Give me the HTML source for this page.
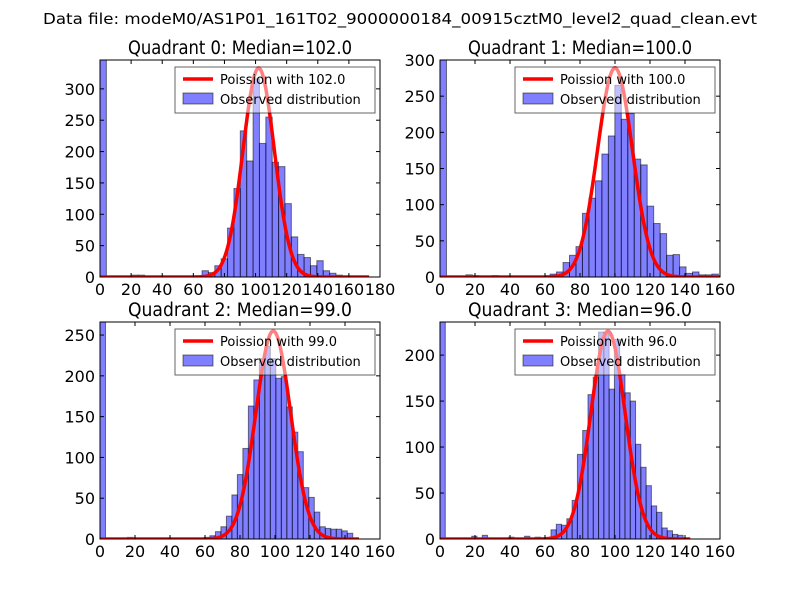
<!DOCTYPE html>
<html><head><meta charset="utf-8"><style>
body{margin:0;background:#fff;}
svg{display:block;font-family:"DejaVu Sans","Liberation Sans",sans-serif;}
</style></head><body>
<svg id="fig" width="800" height="600" viewBox="0 0 800 600">
<rect width="800" height="600" fill="#fff"/>
<text x="400" y="24" text-anchor="middle" font-size="15" textLength="714" lengthAdjust="spacingAndGlyphs">Data file: modeM0/AS1P01_161T02_9000000184_00915cztM0_level2_quad_clean.evt</text>
</svg>
<script>
// Chart data
const titles = ["Quadrant 0: Median=102.0","Quadrant 1: Median=100.0","Quadrant 2: Median=99.0","Quadrant 3: Median=96.0"];
const medians = [102, 100, 99, 96];
const poissonPeaks = [333, 289, 255, 226];
const curveEnds = [173, 160, 148, 143];
const binWidths = [4.1, 3.7, 3.14, 3.02];
const counts0 = [346,0,0,0,0,3,3,0,0,0,0,0,0,0,0,0,10,7,18,29,78,141,233,185,316,213,255,183,176,117,64,36,31,18,26,10,6,3];
const counts1 = [300,0,0,0,3,2,0,0,2,0,0,0,0,0,0,0,0,4,7,20,30,42,88,109,133,170,195,265,218,226,163,155,98,74,60,30,31,14,5,7,3,3,4];
const counts2 = [266,0,0,0,0,2,1,0,0,0,0,0,0,0,0,0,0,0,0,2,4,9,15,28,54,79,111,163,195,221,236,221,197,199,162,131,107,63,51,33,15,13,12,12,10,7];
const counts3 = [236,0,0,0,0,0,3,0,4,0,0,0,0,2,0,0,3,0,2,0,1,10,16,15,22,42,92,118,157,176,225,225,163,217,179,159,150,103,78,58,36,29,12,9,5,4];
const xMaxes = [180, 160, 160, 160];
const yMaxes = [346, 300, 266, 236];
const xTicks0 = [0,20,40,60,80,100,120,140,160,180];
const xTicks = [0,20,40,60,80,100,120,140,160];
const yTicks0 = [0,50,100,150,200,250,300];
const yTicks1 = [0,50,100,150,200,250,300];
const yTicks2 = [0,50,100,150,200,250];
const yTicks3 = [0,50,100,150,200];
const legendLabels = ["Poission with 102.0","Poission with 100.0","Poission with 99.0","Poission with 96.0"];

const allCounts = [counts0, counts1, counts2, counts3];
const allXTicks = [xTicks0, xTicks, xTicks, xTicks];
const allYTicks = [yTicks0, yTicks1, yTicks2, yTicks3];
const boxes = [[100,60,380,277],[440,60,720,277],[100,322,380,539],[440,322,720,539]];
const NS = "http://www.w3.org/2000/svg";
const fig = document.getElementById('fig');
function mk(tag, attrs, parent){const e=document.createElementNS(NS,tag);for(const k in attrs)e.setAttribute(k,attrs[k]);(parent||fig).appendChild(e);return e;}

for (let q=0;q<4;q++){
  const [L,T,R,B]=boxes[q];
  const xs=v=>L+(v/xMaxes[q])*(R-L);
  const ys=v=>B-(v/yMaxes[q])*(B-T);
  const g=mk('g',{});
  
  
  const clipId='clip'+q;
  const cp=mk('clipPath',{id:clipId},g); mk('rect',{x:L,y:T,width:R-L,height:B-T},cp);
  const plot=mk('g',{'clip-path':'url(#'+clipId+')'},g);
  // bars
  const c=allCounts[q], w=binWidths[q];
  c.forEach((v,i)=>{
    if(v<=0) return;
    const x0=xs(i*w), x1=xs((i+1)*w);
    const r=mk('rect',{x:x0,y:ys(v),width:x1-x0,height:B-ys(v),fill:'rgba(0,0,255,0.5)',stroke:'rgba(0,0,0,0.5)','stroke-width':1},plot);
    
    
  });
  // Poisson curve (gaussian approx)
  const mu=medians[q], A=poissonPeaks[q];
  let d='';
  for(let x=0;x<=curveEnds[q];x+=0.5){
    const y=A*Math.exp(-(x-mu)*(x-mu)/(2*mu));
    d+=(x===0?'M':'L')+xs(x).toFixed(2)+','+ys(y).toFixed(2);
  }
  const line=mk('path',{d:d,fill:'none',stroke:'#ff0000','stroke-width':3.5,'stroke-linejoin':'round'},plot);
  
  
  // frame
  mk('rect',{x:L,y:T,width:R-L,height:B-T,fill:'none',stroke:'#000','stroke-width':1},g);
  // x ticks
  allXTicks[q].forEach(t=>{
    const X=xs(t);
    mk('line',{x1:X,x2:X,y1:B,y2:B-4,stroke:'#000'},g);
    mk('line',{x1:X,x2:X,y1:T,y2:T+4,stroke:'#000'},g);
    const tx=mk('text',{x:X,y:B+18,'text-anchor':'middle','font-size':16},g);
    tx.textContent=t;
    
    
  });
  allYTicks[q].forEach(t=>{
    const Y=ys(t);
    mk('line',{x1:L,x2:L+4,y1:Y,y2:Y,stroke:'#000'},g);
    mk('line',{x1:R,x2:R-4,y1:Y,y2:Y,stroke:'#000'},g);
    const tx=mk('text',{x:L-5,y:Y+6,'text-anchor':'end','font-size':16},g);
    tx.textContent=t;
    
    
  });
  const tt=mk('text',{x:(L+R)/2,y:T-6,'text-anchor':'middle','font-size':18.5,textLength:224,lengthAdjust:'spacingAndGlyphs'},g);
  tt.textContent=titles[q];
  
  
  // legend
  const lx=R-205, ly=T+7;
  const lg=mk('g',{},g);
  
  
  mk('rect',{x:lx,y:ly,width:200,height:46,fill:'rgba(255,255,255,0.5)',stroke:'rgba(0,0,0,0.6)','stroke-width':1},lg);
  mk('line',{x1:lx+8,x2:lx+38,y1:ly+12,y2:ly+12,stroke:'#ff0000','stroke-width':3.5},lg);
  const t1=mk('text',{x:lx+45,y:ly+17,'font-size':13},lg); t1.textContent=legendLabels[q];
  
  
  mk('rect',{x:lx+8,y:ly+26,width:30,height:11,fill:'rgba(0,0,255,0.5)',stroke:'rgba(0,0,0,0.5)'},lg);
  const t2=mk('text',{x:lx+45,y:ly+37,'font-size':13},lg); t2.textContent="Observed distribution";
  
  
}
</script>
</body></html>
